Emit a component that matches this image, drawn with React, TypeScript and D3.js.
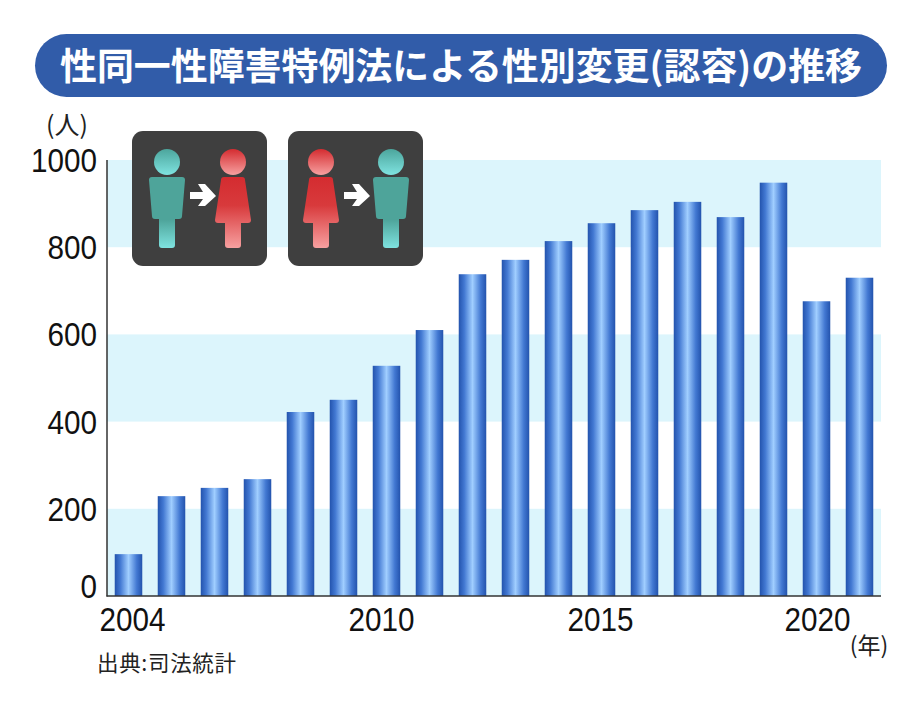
import React, { useEffect, useRef } from 'react'
import * as d3 from 'd3'

const years = [2004, 2005, 2006, 2007, 2008, 2009, 2010, 2011, 2012, 2013, 2014, 2015, 2016, 2017, 2018, 2019, 2020, 2021]
const counts = [96, 229, 248, 268, 422, 450, 528, 610, 738, 771, 814, 855, 885, 904, 869, 948, 676, 730]
const yTicks = [0, 200, 400, 600, 800, 1000]
const xTicks = [2004, 2010, 2015, 2020]
const bands = [[0, 200], [400, 600], [800, 1000]]

const title = '性同一性障害特例法による性別変更(認容)の推移'
const JP = '"Noto Sans CJK JP", sans-serif'
const NUM = '"Liberation Sans", Arial, sans-serif'

const W = 921
const H = 702

const App: React.FC = () => {
  const svgRef = useRef<SVGSVGElement>(null)

  useEffect(() => {
    if (!svgRef.current) return
    const svg = d3.select(svgRef.current)
    svg.selectAll('*').remove()

    const x = d3.scaleBand<number>().domain(years).range([107, 881]).paddingInner(0.36).paddingOuter(0.18)
    const y = d3.scaleLinear().domain([0, 1000]).range([596, 160])

    const defs = svg.append('defs')
    const grad = (id: string, stops: [number, string][], horizontal = false) => {
      const g = defs.append('linearGradient').attr('id', id)
        .attr('x1', 0).attr('y1', 0).attr('x2', horizontal ? 1 : 0).attr('y2', horizontal ? 0 : 1)
      stops.forEach(([o, c]) => g.append('stop').attr('offset', o).attr('stop-color', c))
    }
    grad('bar', [[0, '#2353ad'], [0.2, '#4278d2'], [0.5, '#a0ceff'], [0.8, '#4278d2'], [1, '#2353ad']], true)
    grad('tealHead', [[0, '#4ca59c'], [1, '#7fe3e0']])
    grad('tealBody', [[0, '#4ea49a'], [0.6, '#4ea49a'], [1, '#7fe3e0']])
    grad('redHead', [[0, '#d42c30'], [1, '#f7a0a0']])
    grad('redBody', [[0, '#d42c30'], [0.4, '#d83a3c'], [1, '#f7a0a0']])

    // Title pill
    svg.append('rect').attr('x', 35).attr('y', 34).attr('width', 852).attr('height', 63).attr('rx', 31.5)
      .attr('fill', '#315ca9')
    svg.append('text').attr('x', 60).attr('y', 80)
      .attr('textLength', 802).attr('lengthAdjust', 'spacingAndGlyphs')
      .style('font-family', JP).style('font-weight', 700).style('font-size', '37px')
      .attr('fill', '#fff').text(title)

    // Background bands
    svg.append('g').selectAll('rect').data(bands).enter().append('rect')
      .attr('x', 107).attr('width', 774)
      .attr('y', d => y(d[1])).attr('height', d => y(d[0]) - y(d[1]))
      .attr('fill', '#dcf5fc')

    // Bars
    const data = years.map((year, i) => ({ year, count: counts[i] }))
    svg.append('g').selectAll('rect').data(data).enter().append('rect')
      .attr('x', d => x(d.year) ?? 0).attr('width', x.bandwidth())
      .attr('y', d => y(d.count)).attr('height', d => y(0) - y(d.count))
      .attr('fill', 'url(#bar)')

    // Axes
    const line = (x1: number, y1: number, x2: number, y2: number) =>
      svg.append('line').attr('x1', x1).attr('y1', y1).attr('x2', x2).attr('y2', y2)
        .attr('stroke', '#333').attr('stroke-width', 1.5)
    line(107, 160, 107, 596.5)
    line(106.5, 596, 881, 596)

    svg.append('g').selectAll('text').data(yTicks).enter().append('text')
      .attr('x', 97).attr('y', d => (d === 0 ? y(d) - 10 : y(d)) + 12)
      .attr('text-anchor', 'end')
      .attr('textLength', d => String(d).length * 16.5).attr('lengthAdjust', 'spacingAndGlyphs')
      .style('font-family', NUM).style('font-size', '33px').attr('fill', '#111')
      .text(d => d)

    const labelNudge: Record<number, number> = { 2004: 4, 2010: -5, 2015: -1, 2020: 1 }
    svg.append('g').selectAll('text').data(xTicks).enter().append('text')
      .attr('x', d => (x(d) ?? 0) + x.bandwidth() / 2 + labelNudge[d]).attr('y', 631)
      .attr('text-anchor', 'middle')
      .attr('textLength', 66).attr('lengthAdjust', 'spacingAndGlyphs')
      .style('font-family', NUM).style('font-size', '33px').attr('fill', '#111')
      .text(d => d)

    // Units and source
    const label = (tx: number, ty: number, size: number, s: string, anchor = 'start') =>
      svg.append('text').attr('x', tx).attr('y', ty).attr('text-anchor', anchor)
        .style('font-family', JP).style('font-size', `${size}px`).attr('fill', '#222').text(s)
    label(67, 134, 25, '(人)', 'middle')
    label(869, 654, 23, '(年)', 'middle')
    label(97, 671, 21.5, '出典:司法統計').attr('textLength', 139).attr('lengthAdjust', 'spacing')

    // Icons
    const man = (g: d3.Selection<SVGGElement, unknown, null, undefined>, cx: number) => {
      g.append('circle').attr('cx', cx).attr('cy', 162).attr('r', 13).attr('fill', 'url(#tealHead)')
      g.append('path')
        .attr('d', `M${cx - 15},177 H${cx + 15} Q${cx + 18},177 ${cx + 18},180 L${cx + 15},216 Q${cx + 15},219 ${cx + 12},219 H${cx + 8} V245 Q${cx + 8},248 ${cx + 5},248 H${cx - 5} Q${cx - 8},248 ${cx - 8},245 V219 H${cx - 12} Q${cx - 15},219 ${cx - 15},216 L${cx - 18},180 Q${cx - 18},177 ${cx - 15},177 Z`)
        .attr('fill', 'url(#tealBody)')
    }
    const woman = (g: d3.Selection<SVGGElement, unknown, null, undefined>, cx: number) => {
      g.append('circle').attr('cx', cx).attr('cy', 162).attr('r', 13).attr('fill', 'url(#redHead)')
      g.append('path')
        .attr('d', `M${cx - 9},177 H${cx + 9} Q${cx + 12},177 ${cx + 12},180 L${cx + 18},220 Q${cx + 18},223 ${cx + 15},223 H${cx + 8} V245 Q${cx + 8},248 ${cx + 5},248 H${cx - 5} Q${cx - 8},248 ${cx - 8},245 V223 H${cx - 15} Q${cx - 18},223 ${cx - 18},220 L${cx - 12},180 Q${cx - 12},177 ${cx - 9},177 Z`)
        .attr('fill', 'url(#redBody)')
    }
    const arrow = (g: d3.Selection<SVGGElement, unknown, null, undefined>, ax: number) => {
      g.append('path')
        .attr('d', `M${ax},192 H${ax + 13} L${ax + 8},184 H${ax + 15} L${ax + 26},196 L${ax + 15},206 H${ax + 8} L${ax + 13},199 H${ax} Z`)
        .attr('fill', '#fff')
    }
    const icons = svg.append('g')
    icons.append('rect').attr('x', 132).attr('y', 131).attr('width', 135).attr('height', 135).attr('rx', 11).attr('fill', '#3f3f3f')
    icons.append('rect').attr('x', 288).attr('y', 131).attr('width', 135).attr('height', 135).attr('rx', 11).attr('fill', '#3f3f3f')
    man(icons, 167)
    arrow(icons, 190)
    woman(icons, 233)
    woman(icons, 321)
    arrow(icons, 344)
    man(icons, 391)
  }, [])

  return (
    <svg
      ref={svgRef}
      width={W}
      height={H}
      style={{ position: 'absolute', left: 0, top: 0, background: '#fff' }}
    />
  )
}

export default App
